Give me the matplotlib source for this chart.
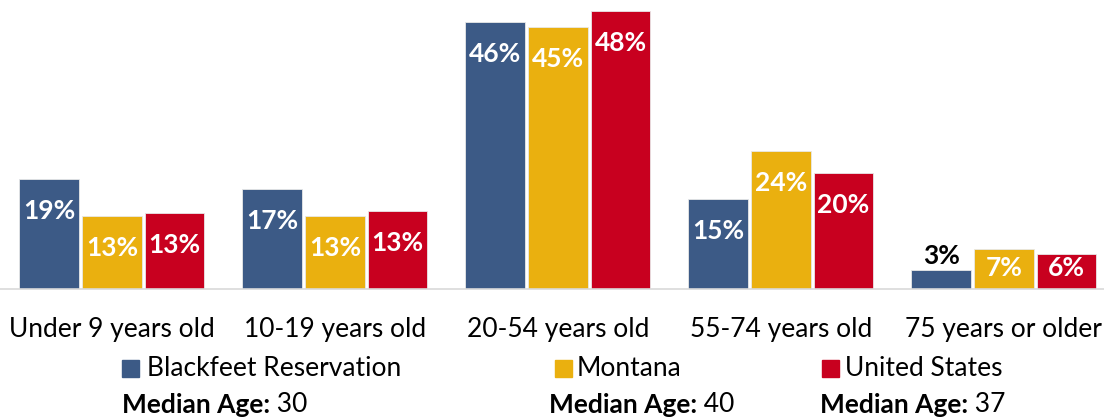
import numpy as np
import matplotlib
matplotlib.use('Agg')
import matplotlib.pyplot as plt
from matplotlib.patches import Rectangle

plt.rcParams['font.family'] = ['Lato', 'DejaVu Sans']

# data
categories = ['Under 9 years old', '10-19 years old', '20-54 years old',
              '55-74 years old', '75 years or older']
series = ['Blackfeet Reservation', 'Montana', 'United States']
blackfeet = [19.0, 17.2, 46.0, 15.5, 3.3]
montana = [12.6, 12.6, 45.2, 23.8, 6.9]
usa = [13.1, 13.4, 48.0, 20.0, 6.0]
labels_bf = ['19%', '17%', '46%', '15%', '3%']
labels_mt = ['13%', '13%', '45%', '24%', '7%']
labels_us = ['13%', '13%', '48%', '20%', '6%']
median_ages = [30, 40, 37]
colores = ['#3C5A86', '#EAB00F', '#C8001F']

fs = 19
fs_bar = 19
px_por_pct = 5.8

fig = plt.figure(figsize=(11.04, 4.2), dpi=100)
ax = fig.add_axes([0, 131/420, 1, 289/420])

x = np.arange(len(categories))
largura = 0.268
passo = 0.281
valores = [blackfeet, montana, usa]
rotulos = [labels_bf, labels_mt, labels_us]

for k in range(3):
    xs = x + (k-1)*passo
    ax.bar(xs, valores[k], largura, color=colores[k], edgecolor='#E8E8E8', linewidth=0.6)
    for i in range(len(categories)):
        v = valores[k][i]
        if v < 5:  # barra pequena: rotulo acima, preto
            ax.text(xs[i], v + 0.4, rotulos[k][i], ha='center', va='bottom',
                    fontsize=fs_bar, fontweight='bold', color='black')
        else:
            yl = max(v - 32/px_por_pct, 21/px_por_pct)
            ax.text(xs[i], yl, rotulos[k][i], ha='center', va='center',
                    fontsize=fs_bar, fontweight='bold', color='white')

ax.set_xlim(-0.502, 4.449)
ax.set_ylim(0, 289/px_por_pct)
ax.set_xticks(x)
ax.set_xticklabels(categories, fontsize=fs)
ax.tick_params(axis='x', length=0, pad=20)
ax.set_yticks([])
for s in ['top', 'right', 'left']:
    ax.spines[s].set_visible(False)
ax.spines['bottom'].set_color('#D9D9D9')
ax.spines['bottom'].set_linewidth(1.2)

# legenda e idade mediana
W, H = 1104, 420
leg_x = [122, 555, 822]
txt_x = [147, 577, 845]
med_x = [122, 549, 820]
for k in range(3):
    fig.patches.append(Rectangle((leg_x[k]/W, 1 - 377/H), 17/W, 17/H,
                                 transform=fig.transFigure, color=colores[k]))
    fig.text(txt_x[k]/W, 1 - 368/H, series[k], fontsize=fs, va='center', ha='left')
    t = fig.text(med_x[k]/W, 1 - 405/H, 'Median Age:', fontsize=fs, fontweight='bold',
                 va='center', ha='left')
    ax.annotate(' ' + str(median_ages[k]), xy=(1, 0.5), xycoords=t,
                fontsize=fs, va='center', ha='left', annotation_clip=False)

plt.savefig('out.png', dpi=100)
